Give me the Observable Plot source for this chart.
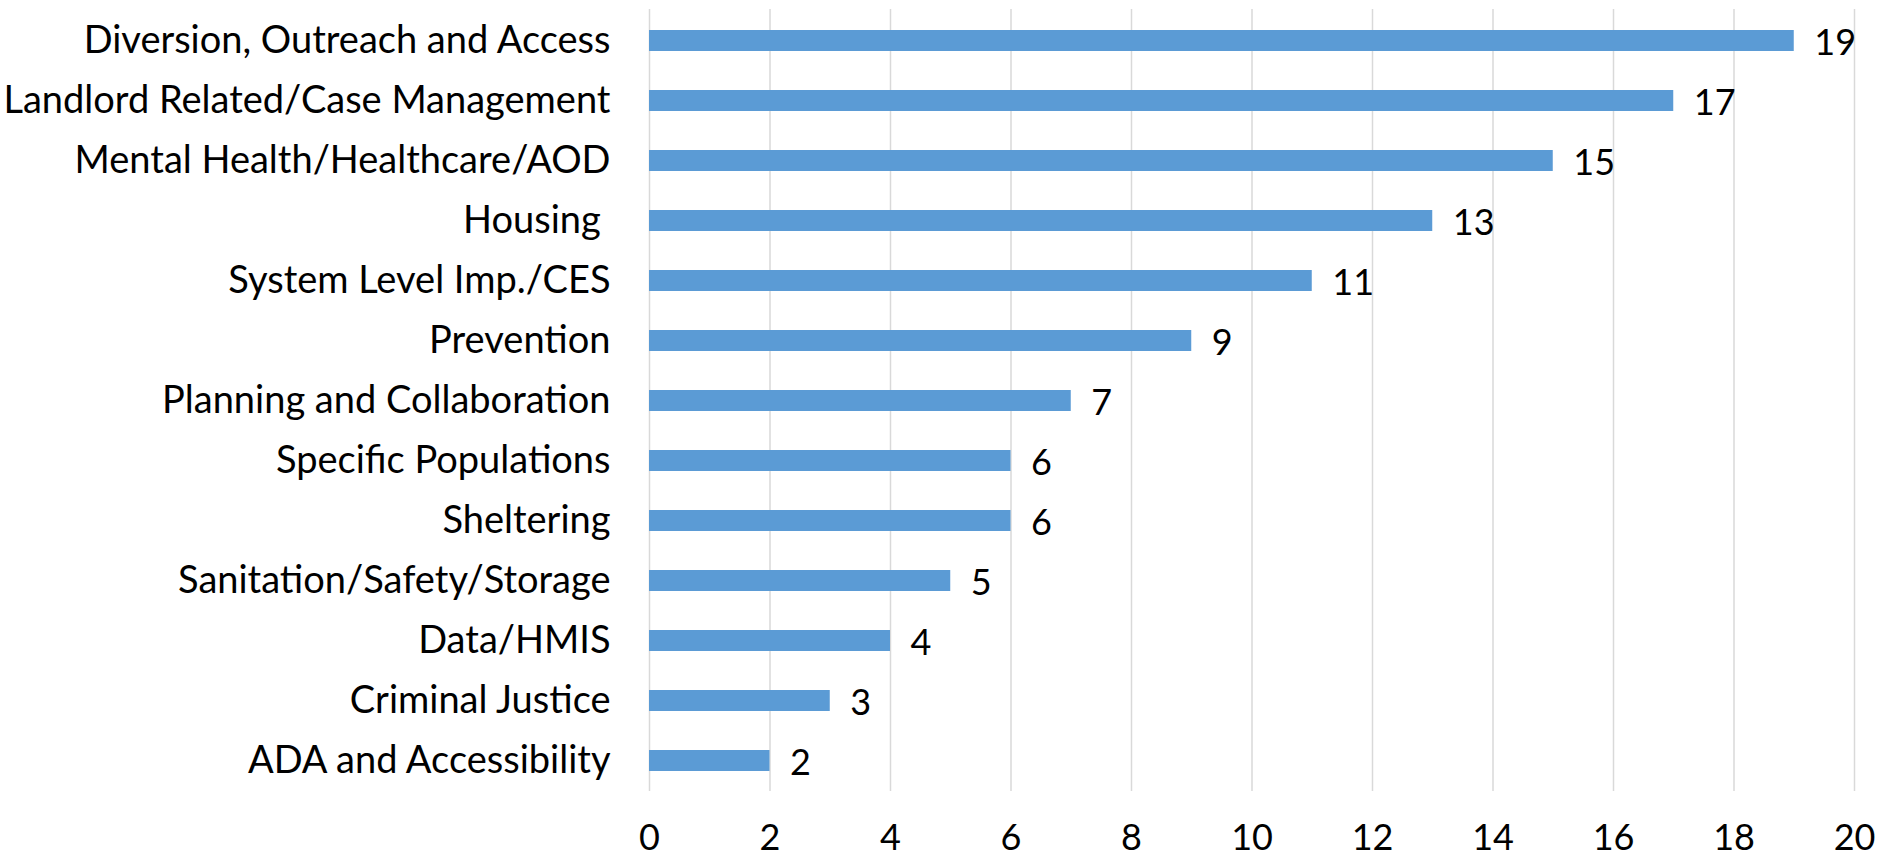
<!DOCTYPE html>
<html>
<head>
<meta charset="utf-8">
<script src="https://cdn.jsdelivr.net/npm/d3@7"></script>
<script src="https://cdn.jsdelivr.net/npm/@observablehq/plot@0.6"></script>
<style>
  html, body { margin: 0; padding: 0; background: #fff; }
  #chart svg { display: block; }
</style>
</head>
<body>
<div id="chart"></div>
<script>
const categories = [
  "Diversion, Outreach and Access",
  "Landlord Related/Case Management",
  "Mental Health/Healthcare/AOD",
  "Housing\u00A0",
  "System Level Imp./CES",
  "Prevention",
  "Planning and Collaboration",
  "Specific Populations",
  "Sheltering",
  "Sanitation/Safety/Storage",
  "Data/HMIS",
  "Criminal Justice",
  "ADA and Accessibility"
];
const counts = [19, 17, 15, 13, 11, 9, 7, 6, 6, 5, 4, 3, 2];
const xTicks = [0, 2, 4, 6, 8, 10, 12, 14, 16, 18, 20];

const data = categories.map((c, i) => ({category: c, count: counts[i]}));
const font = "Lato, 'Open Sans', sans-serif";

const chart = Plot.plot({
  width: 1881,
  height: 860,
  marginLeft: 649,
  marginRight: 27,
  marginTop: 9,
  marginBottom: 69,
  style: {fontFamily: font, fontSize: "36px", color: "#000", background: "#fff"},
  x: {domain: [0, 20], ticks: xTicks, label: null},
  y: {domain: categories, paddingInner: 0.65, paddingOuter: 0.325, label: null},
  marks: [
    Plot.gridX(xTicks, {stroke: "#D9D9D9", strokeOpacity: 1, strokeWidth: 1.5}),
    Plot.barX(data, {x: "count", y: "category", fill: "#5B9BD5"}),
    Plot.text(data, {x: "count", y: "category", text: d => String(d.count), textAnchor: "start", dx: 20, dy: 2, fill: "#000", fontSize: 36}),
    Plot.axisX({ticks: xTicks, tickSize: 0, tickPadding: 33, fontSize: 36, label: null}),
    Plot.axisY({tickSize: 0, tickPadding: 39, fontSize: 38, label: null})
  ]
});
document.getElementById("chart").appendChild(chart);
</script>
</body>
</html>
